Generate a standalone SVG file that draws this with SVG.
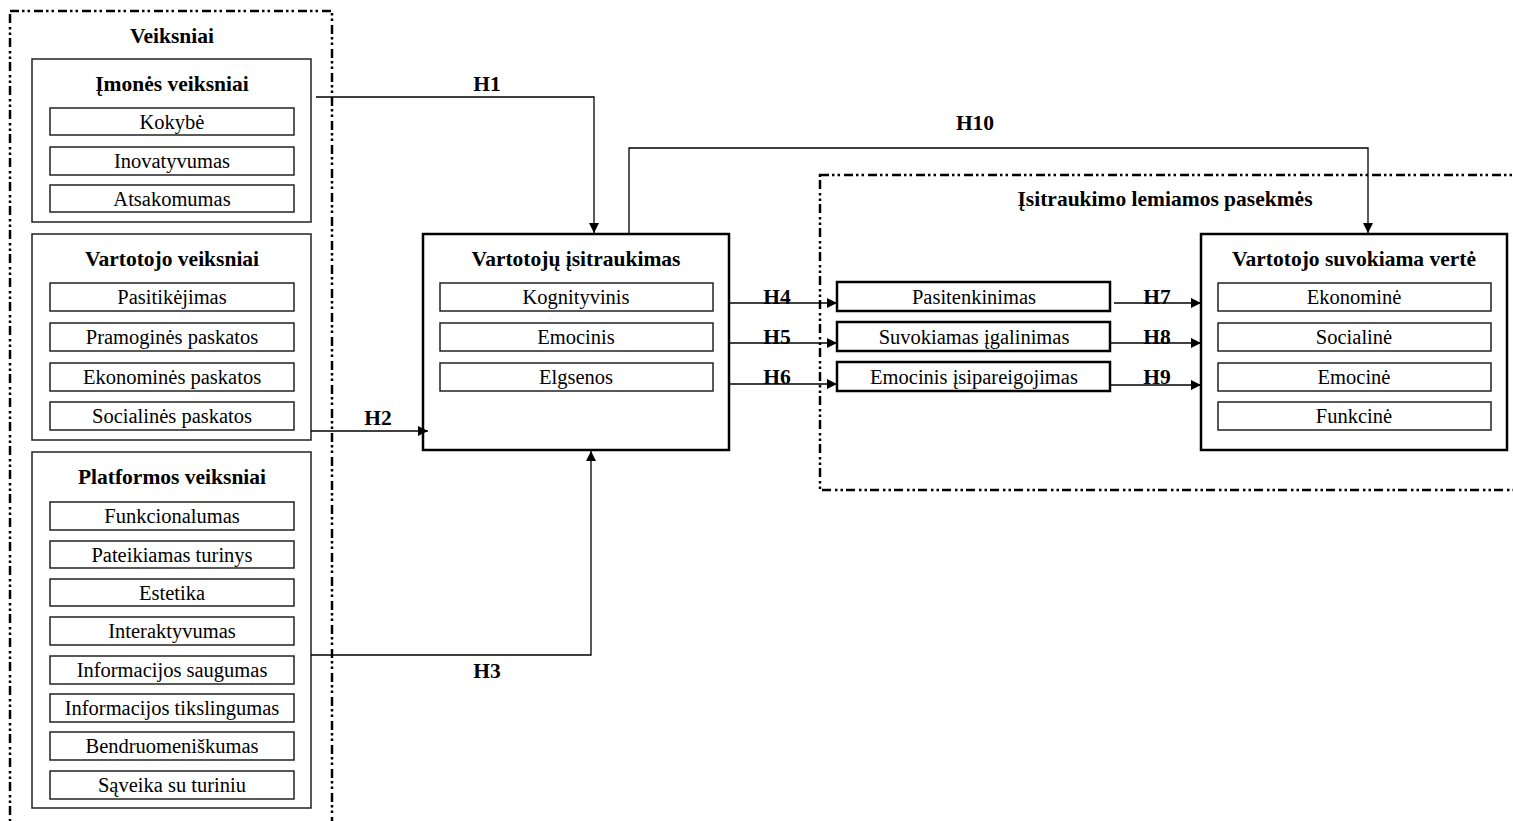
<svg xmlns="http://www.w3.org/2000/svg" width="1513" height="821" viewBox="0 0 1513 821">
<defs>
<marker id="ah" viewBox="0 0 10 10" refX="10" refY="5" markerWidth="10" markerHeight="10" markerUnits="userSpaceOnUse" orient="auto">
<path d="M0,0 L10,5 L0,10 Z" fill="#000"/>
</marker>
<style>
text{font-family:"Liberation Serif","Times New Roman",serif;fill:#000;text-anchor:middle}
.t{font-size:20.5px}
.b{font-size:21.5px;font-weight:bold}
.dash{fill:none;stroke:#000;stroke-width:2.5;stroke-dasharray:9 3 2.5 3 2.5 4}
.grp{fill:none;stroke:#222;stroke-width:1.5}
.item{fill:#fff;stroke:#222;stroke-width:1.5}
.main{fill:#fff;stroke:#000;stroke-width:2.5}
.arr{fill:none;stroke:#000;stroke-width:1.3;marker-end:url(#ah)}
</style>
</defs>
<rect width="1513" height="821" fill="#fff"/>

<g id="veiksniai">
<rect class="dash" x="10" y="11" width="322" height="812"/>
<text class="b" x="172" y="43">Veiksniai</text>
</g>

<g id="imones">
<rect class="grp" x="32" y="59" width="279" height="163"/>
<text class="b" x="172" y="91">Įmonės veiksniai</text>
<rect class="item" x="50" y="108" width="244" height="27"/><text class="t" x="172" y="129">Kokybė</text>
<rect class="item" x="50" y="147" width="244" height="28"/><text class="t" x="172" y="168">Inovatyvumas</text>
<rect class="item" x="50" y="185" width="244" height="27"/><text class="t" x="172" y="206">Atsakomumas</text>
</g>

<g id="vartotojo">
<rect class="grp" x="32" y="234" width="279" height="206"/>
<text class="b" x="172" y="266">Vartotojo veiksniai</text>
<rect class="item" x="50" y="283" width="244" height="28"/><text class="t" x="172" y="304">Pasitikėjimas</text>
<rect class="item" x="50" y="323" width="244" height="28"/><text class="t" x="172" y="344">Pramoginės paskatos</text>
<rect class="item" x="50" y="363" width="244" height="28"/><text class="t" x="172" y="384">Ekonominės paskatos</text>
<rect class="item" x="50" y="402" width="244" height="28"/><text class="t" x="172" y="423">Socialinės paskatos</text>
</g>

<g id="platformos">
<rect class="grp" x="32" y="452" width="279" height="356"/>
<text class="b" x="172" y="484">Platformos veiksniai</text>
<rect class="item" x="50" y="502" width="244" height="28"/><text class="t" x="172" y="523">Funkcionalumas</text>
<rect class="item" x="50" y="541" width="244" height="27"/><text class="t" x="172" y="562">Pateikiamas turinys</text>
<rect class="item" x="50" y="579" width="244" height="27"/><text class="t" x="172" y="600">Estetika</text>
<rect class="item" x="50" y="617" width="244" height="28"/><text class="t" x="172" y="638">Interaktyvumas</text>
<rect class="item" x="50" y="656" width="244" height="28"/><text class="t" x="172" y="677">Informacijos saugumas</text>
<rect class="item" x="50" y="694" width="244" height="28"/><text class="t" x="172" y="715">Informacijos tikslingumas</text>
<rect class="item" x="50" y="732" width="244" height="28"/><text class="t" x="172" y="753">Bendruomeniškumas</text>
<rect class="item" x="50" y="771" width="244" height="28"/><text class="t" x="172" y="792">Sąveika su turiniu</text>
</g>

<g id="isitraukimas">
<rect class="main" x="423" y="234" width="306" height="216"/>
<text class="b" x="576" y="266">Vartotojų įsitraukimas</text>
<rect class="item" x="440" y="283" width="273" height="28"/><text class="t" x="576" y="304">Kognityvinis</text>
<rect class="item" x="440" y="323" width="273" height="28"/><text class="t" x="576" y="344">Emocinis</text>
<rect class="item" x="440" y="363" width="273" height="28"/><text class="t" x="576" y="384">Elgsenos</text>
</g>

<g id="pasekmes">
<rect class="dash" x="820" y="175" width="700" height="315"/>
<text class="b" x="1165" y="206">Įsitraukimo lemiamos pasekmės</text>
</g>

<g id="pasitenkinimas">
<rect class="main" x="837" y="282" width="273" height="29"/><text class="t" x="974" y="304">Pasitenkinimas</text>
</g>
<g id="igalinimas">
<rect class="main" x="837" y="322" width="273" height="29"/><text class="t" x="974" y="344">Suvokiamas įgalinimas</text>
</g>
<g id="isipareigojimas">
<rect class="main" x="837" y="362" width="273" height="29"/><text class="t" x="974" y="384">Emocinis įsipareigojimas</text>
</g>

<g id="verte">
<rect class="main" x="1201" y="234" width="306" height="216"/>
<text class="b" x="1354" y="266">Vartotojo suvokiama vertė</text>
<rect class="item" x="1218" y="283" width="273" height="28"/><text class="t" x="1354" y="304">Ekonominė</text>
<rect class="item" x="1218" y="323" width="273" height="28"/><text class="t" x="1354" y="344">Socialinė</text>
<rect class="item" x="1218" y="363" width="273" height="28"/><text class="t" x="1354" y="384">Emocinė</text>
<rect class="item" x="1218" y="402" width="273" height="28"/><text class="t" x="1354" y="423">Funkcinė</text>
</g>

<g id="connectors">
<path class="arr" d="M316,97 H594 V233"/>
<path class="arr" d="M629,234 V148 H1368 V233"/>
<path class="arr" d="M311,431 H428"/>
<path class="arr" d="M311,655 H591 V451"/>
<path class="arr" d="M729,303 H837"/>
<path class="arr" d="M729,343 H837"/>
<path class="arr" d="M729,384 H837"/>
<path class="arr" d="M1114,303 H1201"/>
<path class="arr" d="M1110,343 H1201"/>
<path class="arr" d="M1110,385 H1201"/>
<text class="b" x="487" y="91">H1</text>
<text class="b" x="975" y="130">H10</text>
<text class="b" x="378" y="425">H2</text>
<text class="b" x="487" y="678">H3</text>
<text class="b" x="777" y="304">H4</text>
<text class="b" x="777" y="344">H5</text>
<text class="b" x="777" y="384">H6</text>
<text class="b" x="1157" y="304">H7</text>
<text class="b" x="1157" y="344">H8</text>
<text class="b" x="1157" y="384">H9</text>
</g>
</svg>
